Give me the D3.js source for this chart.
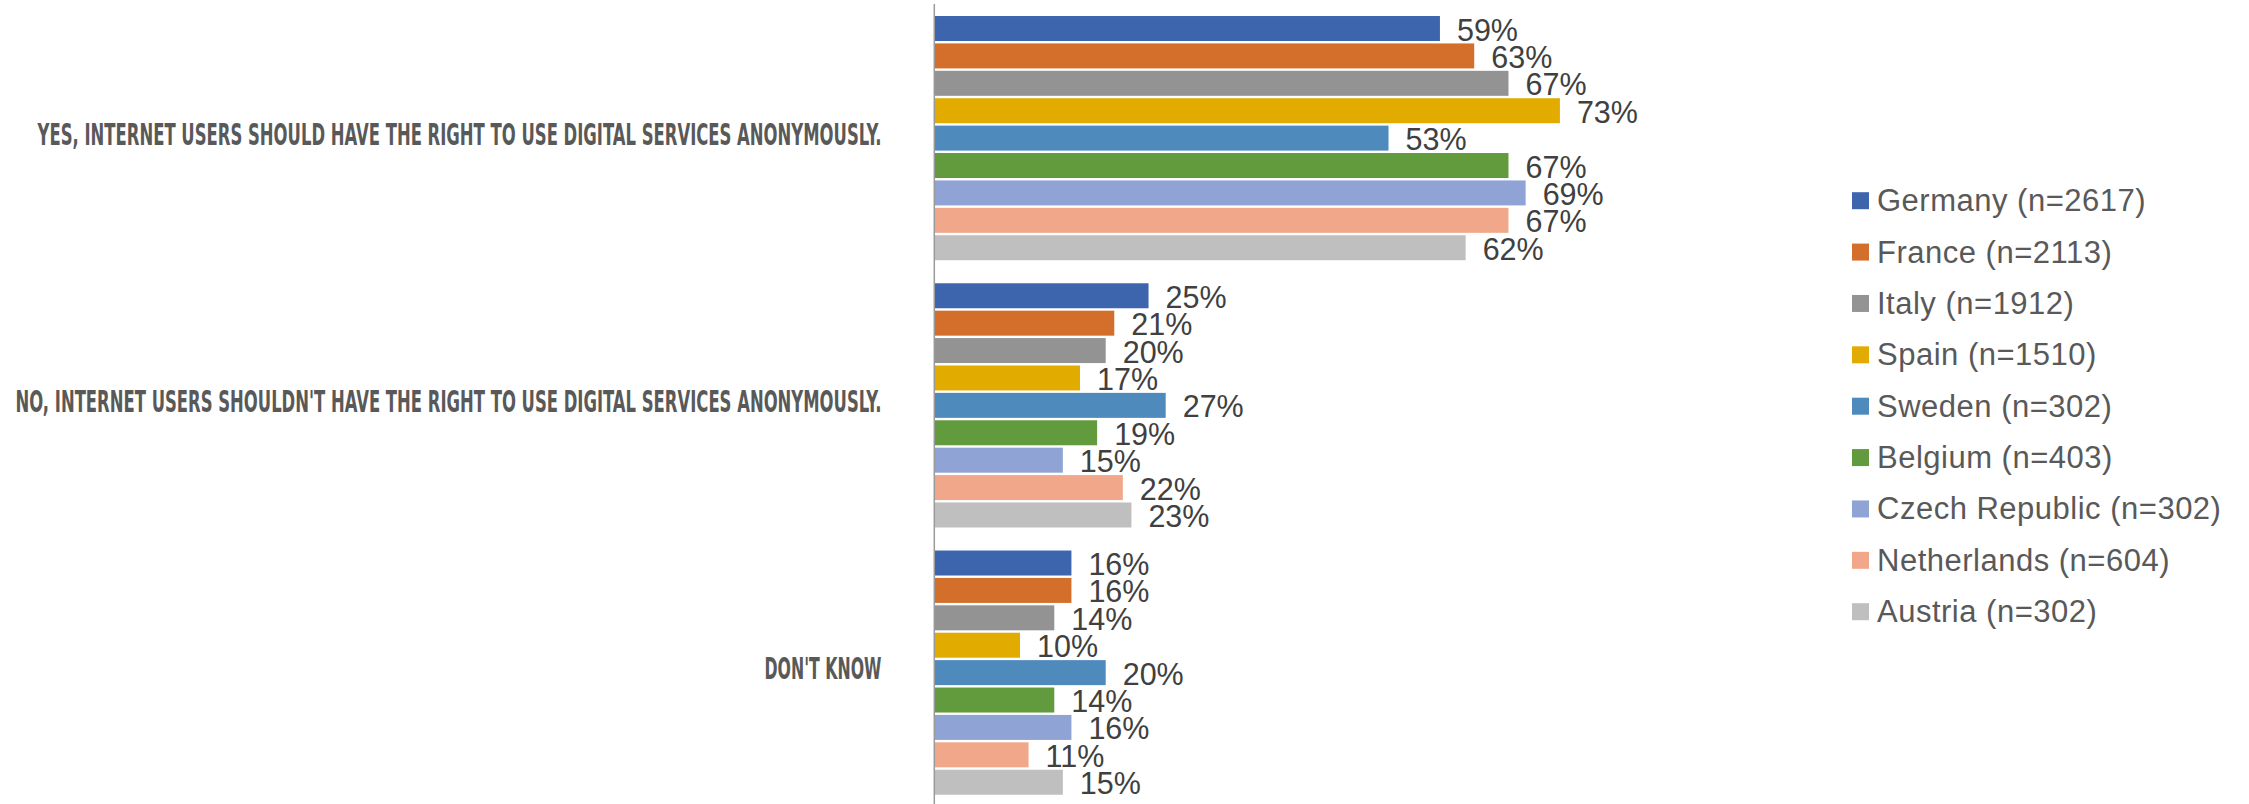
<!DOCTYPE html>
<html>
<head>
<meta charset="utf-8">
<script src="https://cdn.jsdelivr.net/npm/d3@7"></script>
<style>
  html, body { margin: 0; padding: 0; background: #ffffff; }
  svg { display: block; }
</style>
</head>
<body>
<svg id="chart" width="2249" height="804"></svg>
<script>
// ---- data ----
const categories = [
  "YES, INTERNET USERS SHOULD HAVE THE RIGHT TO USE DIGITAL SERVICES ANONYMOUSLY.",
  "NO, INTERNET USERS SHOULDN'T HAVE THE RIGHT TO USE DIGITAL SERVICES ANONYMOUSLY.",
  "DON'T KNOW"
];
const seriesNames = [
  "Germany (n=2617)", "France (n=2113)", "Italy (n=1912)", "Spain (n=1510)",
  "Sweden (n=302)", "Belgium (n=403)", "Czech Republic (n=302)",
  "Netherlands (n=604)", "Austria (n=302)"
];
const yesValues = [59, 63, 67, 73, 53, 67, 69, 67, 62];
const noValues  = [25, 21, 20, 17, 27, 19, 15, 22, 23];
const dkValues  = [16, 16, 14, 10, 20, 14, 16, 11, 15];
const colors = ["#3c65ad", "#d46e2b", "#939393", "#e2ab00", "#4f8abd",
                "#629a3e", "#8fa3d4", "#f1a78a", "#bfbfbf"];

const valuesByCategory = [yesValues, noValues, dkValues];

// ---- layout ----
const svg = d3.select("#chart");
const axisX = 934.3;

const x = d3.scaleLinear().domain([0, 100]).range([axisX, axisX + 857]);

const yGroup = d3.scaleBand()
  .domain(categories)
  .range([4.5, 806.25])
  .paddingInner(0.0862)
  .paddingOuter(0.0431);

const ySeries = d3.scaleBand()
  .domain(seriesNames)
  .range([0, yGroup.bandwidth()])
  .paddingInner(0.088)
  .paddingOuter(0);

// category labels
const labelWidths = [844, 866, 117];
svg.append("g").selectAll("text")
  .data(categories)
  .join("text")
  .attr("x", 881.5)
  .attr("y", d => yGroup(d) + yGroup.bandwidth() / 2 - 4 + 10.5)
  .attr("text-anchor", "end")
  .attr("textLength", (d, i) => labelWidths[i])
  .attr("lengthAdjust", "spacingAndGlyphs")
  .style("font-family", "'Liberation Sans Narrow', 'DejaVu Sans Condensed', 'Roboto Condensed', sans-serif")
  .style("font-weight", "bold")
  .style("font-stretch", "condensed")
  .style("font-size", "29.5px")
  .style("fill", "#595959")
  .text(d => d);

// bars
const groups = svg.append("g").selectAll("g")
  .data(categories)
  .join("g")
  .attr("transform", d => `translate(0,${yGroup(d)})`);

groups.each(function(cat, ci) {
  const g = d3.select(this);
  const vals = valuesByCategory[ci];
  const rows = seriesNames.map((s, si) => ({ s, si, v: vals[si] }));

  g.selectAll("rect")
    .data(rows)
    .join("rect")
    .attr("x", x(0))
    .attr("y", d => ySeries(d.s))
    .attr("width", d => x(d.v) - x(0))
    .attr("height", ySeries.bandwidth())
    .attr("fill", d => colors[d.si]);

  g.selectAll("text")
    .data(rows)
    .join("text")
    .attr("x", d => x(d.v) + 17)
    .attr("y", d => ySeries(d.s) + ySeries.bandwidth() / 2 + 12)
    .style("font-family", "'Liberation Sans', Arial, sans-serif")
    .style("font-size", "30.5px")
    .style("fill", "#404040")
    .text(d => d.v + "%");
});

// vertical axis line
svg.append("line")
  .attr("x1", axisX).attr("x2", axisX)
  .attr("y1", 4).attr("y2", 804)
  .attr("stroke", "#9a9a9a")
  .attr("stroke-width", 1.5);

// legend
const legendY = d3.scalePoint()
  .domain(seriesNames)
  .range([200.7, 611.7]);

const legend = svg.append("g").selectAll("g")
  .data(seriesNames)
  .join("g")
  .attr("transform", d => `translate(1852,${legendY(d)})`);

legend.append("rect")
  .attr("x", 0).attr("y", -8.5)
  .attr("width", 17).attr("height", 17)
  .attr("fill", (d, i) => colors[i]);

legend.append("text")
  .attr("x", 25)
  .attr("y", 10.5)
  .style("font-family", "'Liberation Sans', Arial, sans-serif")
  .style("font-size", "31px")
  .style("letter-spacing", "0.5px")
  .style("fill", "#595959")
  .text(d => d);
</script>
</body>
</html>
